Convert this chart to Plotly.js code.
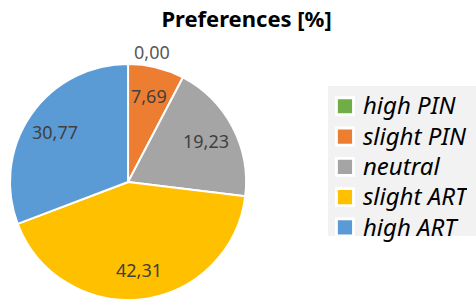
<!DOCTYPE html>
<html>
<head>
<meta charset="utf-8">
<script src="https://cdn.plot.ly/plotly-3.0.1.min.js"></script>
<style>html,body{margin:0;padding:0;overflow:hidden;background:#fff;}#chart{width:476px;height:300px;}</style>
</head>
<body>
<div id="chart"></div>
<script>
const categories = ["high PIN", "slight PIN", "neutral", "slight ART", "high ART"];
const values = [0.00, 7.69, 19.23, 42.31, 30.77];
const colors = ["#70AD47", "#ED7D31", "#A5A5A5", "#FFC000", "#5B9BD5"];

const W = 476, H = 300;
const domX = [0.021, 0.517], domY = [0, 0.787];
const fmt = v => v.toFixed(2).replace(".", ",");

// pie geometry derived from the domain
const cx = (domX[0] + domX[1]) / 2 * W;
const cy = H - (domY[0] + domY[1]) / 2 * H;
const R = Math.min((domX[1] - domX[0]) * W, (domY[1] - domY[0]) * H) / 2;
const total = values.reduce((a, b) => a + b, 0);

const annotations = [];
let cum = 0;
values.forEach((v, i) => {
  const mid = (cum + v / 2) / total * 2 * Math.PI;
  cum += v;
  if (v === 0) return;
  const rr = 0.75 * R;
  const px = cx + rr * Math.sin(mid);
  const py = cy - rr * Math.cos(mid);
  annotations.push({
    xref: "paper", yref: "paper", x: px / W, y: 1 - py / H,
    xanchor: "center", yanchor: "middle", showarrow: false,
    text: fmt(v), font: {family: "Noto Sans", size: 18, color: "#404040"}
  });
});

const trace = {
  type: "pie",
  labels: categories,
  values: values,
  sort: false,
  direction: "clockwise",
  rotation: 0,
  marker: {colors: colors, line: {color: "#ffffff", width: 2}},
  texttemplate: values.map(v => v === 0 ? "%{value:.2f}" : " "),
  textinfo: "value",
  textposition: values.map(v => v === 0 ? "outside" : "inside"),
  insidetextorientation: "horizontal",
  outsidetextfont: {family: "Noto Sans", size: 18, color: "#595959"},
  textfont: {family: "Noto Sans", size: 18, color: "#404040"},
  hoverinfo: "none",
  domain: {x: domX, y: domY},
  showlegend: true
};

const layout = {
  width: W, height: H,
  margin: {l: 0, r: 0, t: 0, b: 0},
  paper_bgcolor: "#ffffff",
  separators: ",.",
  font: {family: "Noto Sans", color: "#404040"},
  title: {text: "<b>Preferences [%]</b>", x: 0.518, xanchor: "center", y: 0.935, yanchor: "middle",
          font: {family: "Noto Sans", size: 22, color: "#000000"}},
  annotations: annotations,
  legend: {
    x: 0.689, xanchor: "left", y: 0.713, yanchor: "top",
    bgcolor: "#F2F2F2",
    font: {family: "Noto Sans", size: 21, color: "#000000", style: "italic"},
    traceorder: "normal",
    itemclick: false,
    tracegroupgap: 0
  }
};

Plotly.newPlot("chart", [trace], layout, {staticPlot: true, displayModeBar: false}).then(() => {
  // enlarge legend swatches and text to match the reference look
  document.querySelectorAll(".legend .legendpoints path").forEach(p => {
    p.setAttribute("transform", "translate(17,0) scale(1.42)");
  });
  document.querySelectorAll(".legend text.legendtext").forEach(t => {
    t.setAttribute("x", "35");
    t.style.fontSize = "24px";
  });
  const bg = document.querySelector(".legend rect.bg");
  if (bg) {
    bg.setAttribute("width", String(W - 0.689 * W));
    bg.setAttribute("height", "150");
  }
});
</script>
</body>
</html>
